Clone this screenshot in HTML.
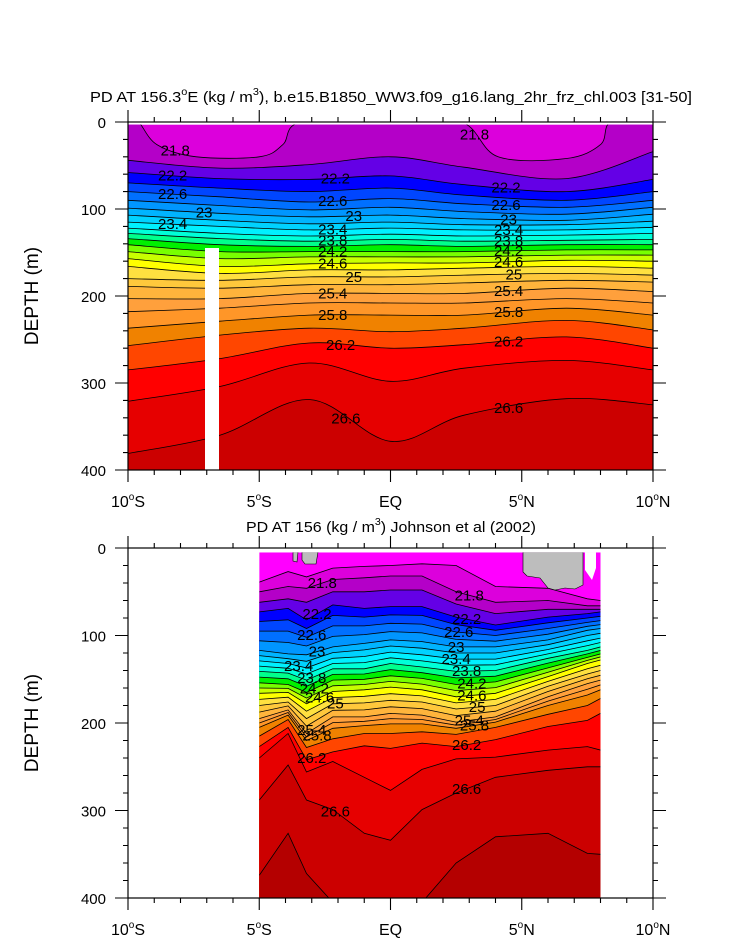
<!DOCTYPE html>
<html><head><meta charset="utf-8"><style>
html,body{margin:0;padding:0;background:#fff;}
svg{display:block;font-family:"Liberation Sans",sans-serif;}
</style></head><body>
<svg id="fig" width="733" height="945" viewBox="0 0 733 945" xmlns="http://www.w3.org/2000/svg">
<g id="top"></g>
<g id="bot"></g>
</svg>
<script>
// ---------- data ----------
const topLats = [-10, -6.5, -3.1, 0, 2.8, 6.7, 10];
const top218Lats = [-10,-9.6,-8.9,-7.4,-5,-4.1,-3.4,0,2.7,4.1,6.7,8.0,8.4,10];
const top218Depths = [0,0,26,40,40,26,0,0,0,40,42,26,0,0];
const topLevels = [21.8,22.0,22.2,22.4,22.6,22.8,23.0,23.2,23.4,23.6,23.8,24.0,24.2,24.4,24.6,24.8,25.0,25.2,25.4,25.6,25.8,26.0,26.2,26.4,26.6];
const topDepths = [
 [0,38,0,0,12,34,0],
 [44,53,49,40,52,65,34],
 [58,65,66,62,72,80,66],
 [70,76,80,76,84,90,80],
 [80,86,92,88,94,98,90],
 [90,96,101,98,103,106,98],
 [99,105,109,107,111,113,106],
 [107,113,117,115,118,118,114],
 [115,120,124,122,124,124,121],
 [122,128,131,129,131,130,128],
 [128,134,137,135,137,136,135],
 [134,141,143,141,143,141,141],
 [141,149,149,149,149,147,147],
 [149,157,155,155,155,153,153],
 [157,166,163,162,162,159,160],
 [166,174,170,170,168,166,168],
 [180,182,178,178,176,174,176],
 [189,191,187,187,185,182,184],
 [203,203,197,197,197,191,195],
 [218,214,208,208,208,203,208],
 [237,229,222,222,222,214,222],
 [257,245,237,241,237,228,239],
 [285,272,254,260,256,247,260],
 [321,304,277,298,283,274,285],
 [381,360,319,367,337,318,325]
];
const topLabelLats = [-8.2,3.2,-8.3,-2.1,4.4,-8.3,-2.2,4.4,-7.1,-1.4,4.5,-8.3,-2.2,4.5,-2.2,4.5,-2.2,4.5,-2.2,4.5,-1.4,4.7,-2.2,4.5,-2.2,4.5,-1.9,4.5,-1.7,4.5];
const topLabelLevels = [21.8,21.8,22.2,22.2,22.2,22.6,22.6,22.6,23.0,23.0,23.0,23.4,23.4,23.4,23.8,23.8,24.2,24.2,24.6,24.6,25.0,25.0,25.4,25.4,25.8,25.8,26.2,26.2,26.6,26.6];

const botLats = [-5,-3.9,-3.2,-2.2,-1,0,1.2,2.5,4,6,7.5,8];
const botLevels = [21.6,21.8,22.0,22.2,22.6,23.0,23.4,23.8,24.2,24.6,25.0,25.4,25.8,26.0,26.2,26.4,26.6,26.8];
const botDepths = [
 [39,27,33,23,21,20,18,20,44,46,58,60],
 [50,44,46,36,34,32,32,50,62,60,66,66],
 [62,58,62,50,50,48,48,64,75,70,70,70],
 [73,69,82,65,69,67,67,79,88,79,75,73],
 [95,95,102,89,89,86,87,96,100,92,85,83],
 [117,121,122,113,109,105,107,113,113,105,94,92],
 [129,132,137,126,124,119,122,127,127,116,106,103],
 [141,143,151,138,138,132,136,141,140,126,117,113],
 [154,156,165,151,150,146,149,156,153,137,125,121],
 [166,165,178,164,162,159,162,170,166,147,132,128],
 [180,176,195,178,177,174,176,184,180,158,144,140],
 [195,185,212,193,193,189,191,199,193,170,155,151],
 [205,191,220,206,203,201,201,206,199,180,168,162],
 [215,196,228,218,212,212,210,213,205,190,180,172],
 [227,205,242,233,226,229,223,227,219,204,197,189],
 [240,212,256,244,262,277,253,241,239,231,227,231],
 [288,248,288,299,326,334,299,280,262,254,250,250],
 [374,326,372,405,410,410,405,360,330,326,349,350]
];
const botLabelLats = [-2.6,3.0,-2.8,2.9,-3.0,2.6,-2.8,2.5,-3.5,2.5,-3.0,2.9,-2.9,3.1,-2.7,3.1,-2.1,3.3,-3.0,3.0,-2.8,3.2,-3.0,2.9,-2.1,2.9];
const botLabelLevels = [21.8,21.8,22.2,22.2,22.6,22.6,23.0,23.0,23.4,23.4,23.8,23.8,24.2,24.2,24.6,24.6,25.0,25.0,25.4,25.4,25.8,25.8,26.2,26.2,26.6,26.6];

const depthTicks = [0,100,200,300,400];
const latTicks = [-10,-5,0,5,10];
const latTickLabels = ["10°S","5°S","EQ","5°N","10°N"];

const bandStarts = [21.6,21.8,22.0,22.2,22.4,22.6,22.8,23.0,23.2,23.4,23.6,23.8,24.0,24.2,24.4,24.6,24.8,25.0,25.2,25.4,25.6,25.8,26.0,26.2,26.4,26.6,26.8];
const bandColors = ["#dc00dc","#b400c8","#6400e6","#0000ff","#0046ff","#0070ff","#0096ff","#00b4ff","#00d2ff","#00f0ff","#00ffd8","#00ff8c","#00f000","#78ff00","#c8ff00","#ffff00","#ffe040","#ffc83c","#ffb43c","#ffa03c","#ff9628","#f08200","#ff4600","#ff0000","#e60000","#cc0000","#b40000"];

// ---------- helpers ----------
const NS = "http://www.w3.org/2000/svg";
function mk(tag, attrs, parent){ const e=document.createElementNS(NS,tag); for(const k in attrs) e.setAttribute(k,attrs[k]); if(parent) parent.appendChild(e); return e; }
function colorBelow(level){ let c=bandColors[0]; for(let i=0;i<bandStarts.length;i++){ if(level>=bandStarts[i]-0.01) c=bandColors[i]; } return c; }
function linePath(pts, smooth){
  let d = "M"+pts[0][0].toFixed(1)+","+pts[0][1].toFixed(1);
  for(let i=0;i<pts.length-1;i++){
    const p0=pts[i-1]||pts[i], p1=pts[i], p2=pts[i+1], p3=pts[i+2]||pts[i+1];
    if(smooth){
      const c1=[p1[0]+(p2[0]-p0[0])/6, p1[1]+(p2[1]-p0[1])/6];
      const c2=[p2[0]-(p3[0]-p1[0])/6, p2[1]-(p3[1]-p1[1])/6];
      d+=" C"+c1[0].toFixed(1)+","+c1[1].toFixed(1)+" "+c2[0].toFixed(1)+","+c2[1].toFixed(1)+" "+p2[0].toFixed(1)+","+p2[1].toFixed(1);
    } else d+=" L"+p2[0].toFixed(1)+","+p2[1].toFixed(1);
  }
  return d;
}
function depthAt(lats, arr, lat){
  for(let i=0;i<lats.length-1;i++){ if(lat>=lats[i]&&lat<=lats[i+1]){ const t=(lat-lats[i])/(lats[i+1]-lats[i]); return arr[i]+t*(arr[i+1]-arr[i]); } }
  return arr[arr.length-1];
}

function panel(g, o){
  const xs = lat => 128 + (lat+10)/20*525;
  const ys = d => o.y0 + d*o.k;
  const yBot = ys(400);
  const clipId = o.id+"-clip";
  const cp = mk("clipPath",{id:clipId},g);
  const dx0 = xs(o.lats[0]), dx1 = xs(o.lats[o.lats.length-1]);
  mk("rect",{x:dx0,y:ys(o.topDepth),width:dx1-dx0,height:yBot-ys(o.topDepth)},cp);
  const data = mk("g",{"clip-path":"url(#"+clipId+")"},g);
  
  
  mk("rect",{x:dx0,y:ys(o.topDepth),width:dx1-dx0,height:yBot-ys(o.topDepth),fill:o.bg},data);
  const lineLats = i => (o.firstLats && i===0) ? o.firstLats : o.lats;
  const lineDepths = i => (o.firstDepths && i===0) ? o.firstDepths : o.depths[i];
  const lines=[];
  for(let i=0;i<o.levels.length;i++){
    lines.push({lev:o.levels[i], d:lineDepths(i), lats:lineLats(i)});
    if(i<o.levels.length-1 && o.levels[i+1]-o.levels[i]>0.21){
      const nd=o.depths[i].map((v,j)=>(v+o.depths[i+1][j])/2);
      lines.push({lev:o.levels[i]+0.2, d:nd, lats:o.lats});
    }
  }
  const paths=[];
  lines.forEach(L=>{
    const pts=L.lats.map((la,j)=>[xs(la), ys(Math.max(o.topDepth-3, L.d[j]))]);
    const p=linePath(pts,o.smooth);
    paths.push(p);
    const f=mk("path",{d:p+" L"+(dx1+2)+","+(yBot+2)+" L"+(dx0-2)+","+(yBot+2)+" Z",fill:colorBelow(L.lev+0.01),stroke:"none"},data);
    
    
  });
  paths.forEach(p=>{
    const s=mk("path",{d:p,fill:"none",stroke:"#000","stroke-width":0.8},data);
    
    
  });
  if(o.extra) o.extra(data, xs, ys);
  o.labLats.forEach((la,i)=>{
    const li=o.levels.indexOf(o.labLevels[i]);
    const d=depthAt(lineLats(li),lineDepths(li),la);
    const t=mk("text",{x:xs(la),y:ys(d)+5,"text-anchor":"middle","font-size":15,fill:"#000"},g);
    t.textContent = (o.labLevels[i]%1===0)? String(o.labLevels[i]) : o.labLevels[i].toFixed(1);
    
    
  });
  const fr=mk("rect",{x:128,y:o.y0,width:525,height:yBot-o.y0,fill:"none",stroke:"#000","stroke-width":1.2},g);
  
  
  let tk="";
  for(let la=-10;la<=10;la++){ const x=xs(la), L=(la%5===0)?12:5; tk+=`M${x},${o.y0}v${-L}M${x},${yBot}v${L}`; }
  for(let d=0;d<=400;d+=20){ const y=ys(d), L=(d%100===0)?13:5; tk+=`M128,${y}h${-L}M653,${y}h${L}`; }
  const tp=mk("path",{d:tk,stroke:"#000","stroke-width":1.1,fill:"none"},g);
  
  
  depthTicks.forEach(d=>{
    const t=mk("text",{x:106,y:ys(d)+6,"text-anchor":"end","font-size":15},g);
    t.textContent=String(d);
    
    
  });
  latTicks.forEach((la,i)=>{
    const t=mk("text",{x:xs(la),y:yBot+37,"text-anchor":"middle","font-size":16},g);
    const lab=latTickLabels[i];
    if(lab.indexOf("°")>=0){
      const parts=lab.split("°");
      t.appendChild(document.createTextNode(parts[0]));
      const sp=mk("tspan",{"font-size":10,dy:-7},t); sp.textContent="o";
      const sp2=mk("tspan",{dy:7},t); sp2.textContent=parts[1];
    } else t.textContent=lab;
    
    
  });
  const yt=mk("text",{x:0,y:0,"text-anchor":"middle","font-size":19,transform:`translate(38,${(o.y0+yBot)/2}) rotate(-90)`},g);
  yt.textContent="DEPTH (m)";
  
  
}

const svg=document.getElementById("fig");
function title(y, parts, name, len){
  const t=mk("text",{x:391,y:y,"text-anchor":"middle","font-size":15,textLength:len,lengthAdjust:"spacingAndGlyphs"},svg);
  t.appendChild(document.createTextNode(parts[0]));
  const s=mk("tspan",{"font-size":10,dy:-7},t); s.textContent=parts[1];
  const s2=mk("tspan",{dy:7},t); s2.textContent=parts[2];
  const s3=mk("tspan",{"font-size":10,dy:-7},t); s3.textContent=parts[3];
  const s4=mk("tspan",{dy:7},t); s4.textContent=parts[4];
  
  
}
title(102, ["PD AT 156.3","o","E (kg / m","3","), b.e15.B1850_WW3.f09_g16.lang_2hr_frz_chl.003 [31-50]"], "top-panel-title", 602);
title(532, ["PD AT 156 (kg / m","3",") Johnson et al (2002)","",""], "bottom-panel-title", 290);

panel(document.getElementById("top"), {id:"top", y0:122, k:0.87, lats:topLats, levels:topLevels, depths:topDepths, smooth:true, bg:"#dc00dc", topDepth:3,
  firstLats:top218Lats, firstDepths:top218Depths,
  labLats:topLabelLats, labLevels:topLabelLevels,
  extra:(g,xs,ys)=>{ const r=mk("rect",{x:205,y:248,width:14,height:224,fill:"#fff"},g);
    
     }});

panel(document.getElementById("bot"), {id:"bot", y0:548, k:0.875, lats:botLats, levels:botLevels, depths:botDepths, smooth:false, bg:"#ff00ff", topDepth:5,
  labLats:botLabelLats, labLevels:botLabelLevels,
  extra:(g,xs,ys)=>{
    const p=mk("path",{d:"M523,552 L523,572 L527,576 L540,578 L548,588 L555,590 L565,588 L575,589 L583,585 L583,552 Z M293,552 L293,561 L297,562 L298,552 Z M302,552 L302,560 L305,564 L316,564 L318,552 Z",fill:"#bdbdbd",stroke:"#000","stroke-width":0.6},g);
    
    
    const w=mk("path",{d:"M585,552 L585,570 L592,580 L596,568 L596,552 Z",fill:"#fff"},g);
    
    
  }});
</script>
</body></html>
